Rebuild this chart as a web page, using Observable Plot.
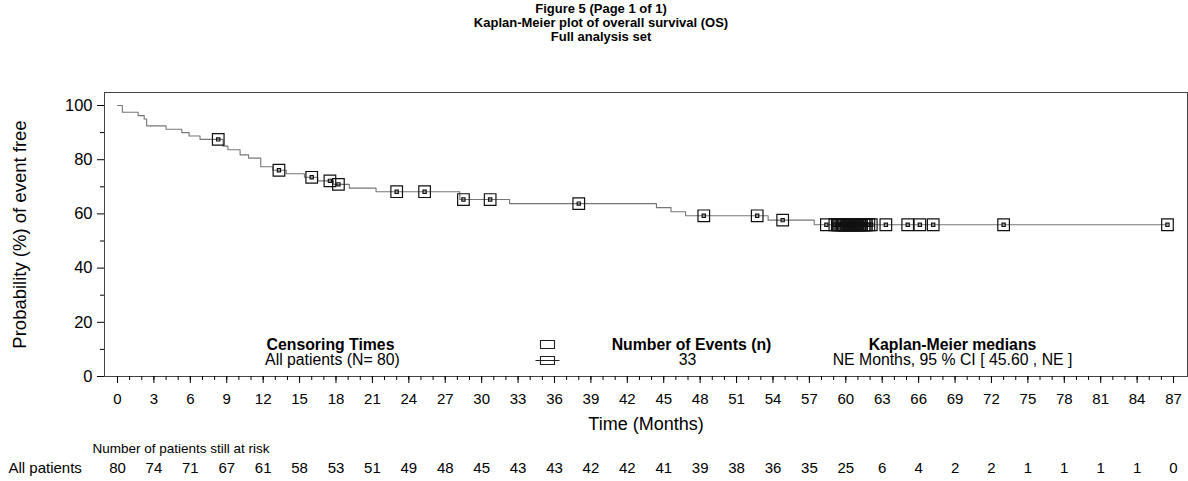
<!DOCTYPE html>
<html>
<head>
<meta charset="utf-8">
<script src="https://cdn.jsdelivr.net/npm/d3@7"></script>
<script src="https://cdn.jsdelivr.net/npm/@observablehq/plot@0.6"></script>
<style>
  body { margin: 0; background: #fff; }
  #title { font: bold 13px 'Liberation Sans', Arial, sans-serif; text-align: center; width: 1202px;
           line-height: 14px; padding-top: 2px; height: 46px; color: #000; }
  #chart svg { display: block; }
</style>
</head>
<body>
<div id="title">Figure 5 (Page 1 of 1)<br>Kaplan-Meier plot of overall survival (OS)<br>Full analysis set</div>
<div id="chart"></div>
<script>
// Kaplan-Meier step curve (time in months, survival %)
const stepTimes = [0, 0.4, 1.7, 2.2, 2.4, 4.0, 5.3, 5.9, 6.8, 8.7, 9.1, 10.1, 10.8, 11.8, 12.8, 13.9, 15.4, 16.5, 17.8, 19.1, 21.3, 28.2, 32.3, 44.4, 45.6, 46.8, 53.6, 57.4, 86.5];
const stepSurv  = [100, 97.5, 96.25, 95.0, 92.5, 91.25, 90.0, 88.75, 87.5, 85.0, 83.7, 81.8, 80.6, 77.4, 76.1, 74.8, 73.5, 72.2, 70.9, 69.5, 68.2, 65.3, 63.8, 62.3, 60.8, 59.3, 57.7, 56.0, 56.0];
// Censoring times (months)
const censorTimes = [8.3, 13.3, 16.0, 17.5, 18.2, 23.0, 25.3, 28.5, 30.7, 38.0, 48.3, 52.7, 54.8,
  58.4, 59.1, 59.3, 59.4, 59.5, 59.6, 59.7, 59.8, 59.9,
  60.0, 60.1, 60.2, 60.3, 60.4, 60.5, 60.6, 60.7, 60.8, 60.9, 61.0, 61.1, 61.2, 61.3, 61.5, 61.6, 61.7, 61.9, 62.1,
  63.3, 65.1, 66.1, 67.2, 73.0, 86.5];
// Number at risk table
const riskTimes  = [0, 3, 6, 9, 12, 15, 18, 21, 24, 27, 30, 33, 36, 39, 42, 45, 48, 51, 54, 57, 60, 63, 66, 69, 72, 75, 78, 81, 84, 87];
const riskCounts = [80, 74, 71, 67, 61, 58, 53, 51, 49, 48, 45, 43, 43, 42, 42, 41, 39, 38, 36, 35, 25, 6, 4, 2, 2, 1, 1, 1, 1, 0];
// Axis ticks
const xMajorTicks = d3.range(0, 88, 3);
const xMinorTicks = d3.range(0, 88, 1);
const yMajorTicks = [0, 20, 40, 60, 80, 100];
const yMinorTicks = [10, 30, 50, 70, 90];
// Legend text
const legendHeaders = ["Censoring Times", "Number of Events (n)", "Kaplan-Meier medians"];
const legendValues = ["All patients (N= 80)", "33", "NE Months, 95 % CI [ 45.60 , NE ]"];

const curve = stepTimes.map((t, i) => ({t, s: stepSurv[i]}));
function survAt(t) {
  let s = stepSurv[0];
  for (let i = 0; i < stepTimes.length; i++) if (stepTimes[i] <= t) s = stepSurv[i];
  return s;
}
const censors = censorTimes.map(t => ({t, s: survAt(t)}));

const censorSymbol = {
  draw(ctx) {
    const a = 5.8, b = 1.6;
    ctx.moveTo(-a, -a); ctx.lineTo(a, -a); ctx.lineTo(a, a); ctx.lineTo(-a, a); ctx.closePath();
    ctx.moveTo(-b, -b); ctx.lineTo(b, -b); ctx.lineTo(b, b); ctx.lineTo(-b, b); ctx.closePath();
  }
};
const legendBoxSymbol = {
  draw(ctx) { ctx.moveTo(-7, -4); ctx.lineTo(7, -4); ctx.lineTo(7, 4); ctx.lineTo(-7, 4); ctx.closePath(); }
};
const legendLineBoxSymbol = {
  draw(ctx) {
    ctx.moveTo(-12, 0); ctx.lineTo(-7, 0); ctx.moveTo(7, 0); ctx.lineTo(12, 0);
    ctx.moveTo(-7, -4); ctx.lineTo(7, -4); ctx.lineTo(7, 4); ctx.lineTo(-7, 4); ctx.closePath();
    ctx.moveTo(-7, 0); ctx.lineTo(7, 0);
  }
};

const headerDx = [226, 587, 848];
const valueDx = [228, 583, 848];

const chart = Plot.plot({
  width: 1188,
  height: 433,
  marginLeft: 104,
  marginRight: 1,
  marginTop: 44,
  marginBottom: 105,
  style: {fontFamily: "'Liberation Sans', Arial, sans-serif", fontSize: "15px", color: "#000", background: "#fff", overflow: "visible"},
  x: {domain: [-1.071, 88.15]},
  y: {domain: [0, 104.8]},
  marks: [
    Plot.frame({stroke: "#444"}),
    Plot.axisX({ticks: xMinorTicks, tickSize: 4, tickFormat: () => "", label: null}),
    Plot.axisX({ticks: xMajorTicks, tickSize: 7, tickPadding: 10, label: null}),
    Plot.axisY({ticks: yMinorTicks, tickSize: 4, tickFormat: () => "", label: null}),
    Plot.axisY({ticks: yMajorTicks, tickSize: 7, tickPadding: 5, label: null, fontSize: 16.5}),
    Plot.line(curve, {x: "t", y: "s", curve: "step-after", stroke: "#777", strokeWidth: 1.1}),
    Plot.dot(censors, {x: "t", y: "s", symbol: censorSymbol, stroke: "#111", strokeWidth: 1.2, fill: "none"}),
    // in-plot legend
    ...legendHeaders.map((d, i) => Plot.text([d], {frameAnchor: "bottom-left", dx: headerDx[i], dy: -27, text: v => v, fontWeight: "bold", textAnchor: "middle", fontSize: 15.8})),
    ...legendValues.map((d, i) => Plot.text([d], {frameAnchor: "bottom-left", dx: valueDx[i], dy: -12, text: v => v, textAnchor: "middle", fontSize: 15.8})),
    Plot.dot([0], {frameAnchor: "bottom-left", dx: 443, dy: -32, symbol: legendBoxSymbol, stroke: "#222", fill: "none", strokeWidth: 1.1}),
    Plot.dot([0], {frameAnchor: "bottom-left", dx: 443, dy: -16, symbol: legendLineBoxSymbol, stroke: "#222", fill: "none", strokeWidth: 1.1}),
    // axis titles
    Plot.text(["Time (Months)"], {frameAnchor: "bottom", dy: 53, text: d => d, fontSize: 18}),
    Plot.text(["Probability (%) of event free"], {frameAnchor: "left", dx: -84, rotate: -90, text: d => d, textAnchor: "middle", fontSize: 18.5}),
    // risk table
    Plot.text(["Number of patients still at risk"], {frameAnchor: "bottom-left", dx: -12, dy: 76, text: d => d, textAnchor: "start", fontSize: 13.5}),
    Plot.text(["All patients"], {frameAnchor: "bottom-left", dx: -96, dy: 96, text: d => d, textAnchor: "start"}),
    Plot.text(riskTimes, {x: d => d, frameAnchor: "bottom", dy: 96, text: (d, i) => String(riskCounts[i])})
  ]
});
document.getElementById("chart").append(chart);
</script>
</body>
</html>
